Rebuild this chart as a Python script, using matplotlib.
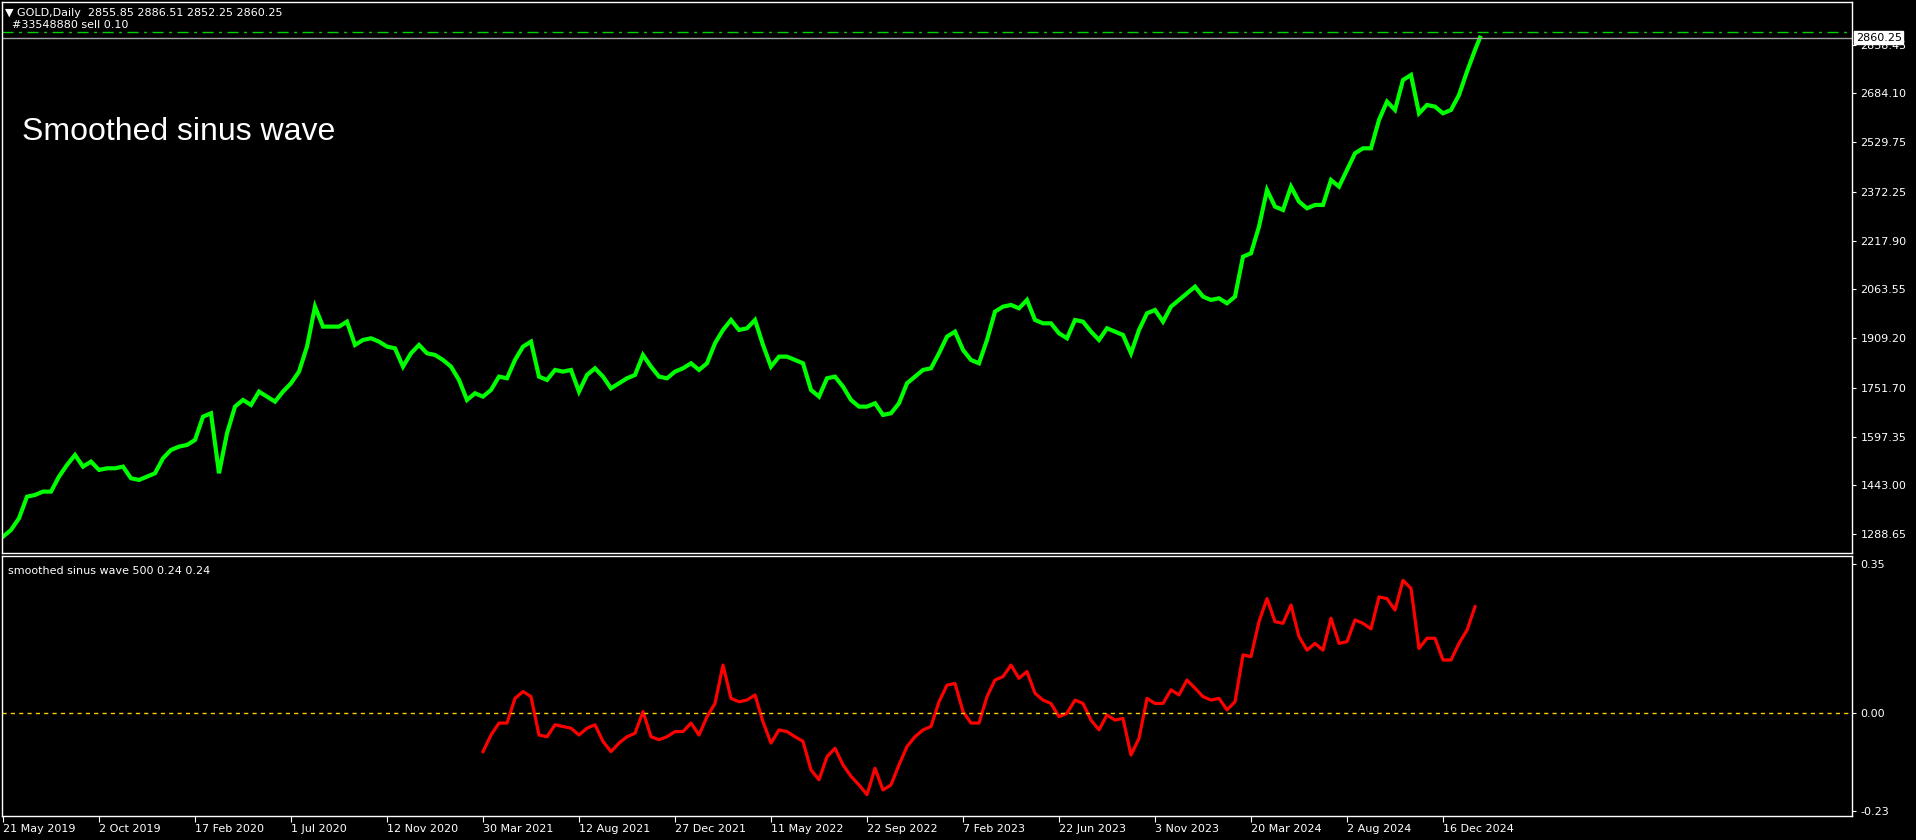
import numpy as np
import matplotlib
matplotlib.use("Agg")
import matplotlib.pyplot as plt
import matplotlib.transforms as mtransforms

# GOLD daily closes, read every 8 bars off the chart (last one is the current bar)
price_bars = list(range(0, 1480, 8)) + [1477]
price = [
    1280.9, 1301.9, 1338.9, 1407.4, 1412.7, 1423.3, 1423.3, 1470.8, 1507.7, 1539.3,
    1502.4, 1518.2, 1491.9, 1497.1, 1497.1, 1502.4, 1465.5, 1460.2, 1470.8, 1481.3,
    1528.8, 1555.2, 1565.7, 1571.0, 1586.8, 1660.6, 1671.2, 1481.3, 1607.9, 1692.3,
    1713.4, 1697.6, 1739.8, 1724.0, 1708.1, 1739.8, 1766.1, 1803.1, 1882.2, 2008.8,
    1945.5, 1945.5, 1945.5, 1961.3, 1887.5, 1903.3, 1908.6, 1898.0, 1882.2, 1876.9,
    1818.9, 1861.1, 1887.5, 1861.1, 1855.8, 1840.0, 1818.9, 1776.7, 1713.4, 1734.5,
    1724.0, 1745.1, 1787.3, 1782.0, 1840.0, 1882.2, 1898.0, 1787.3, 1776.7, 1808.4,
    1803.1, 1808.4, 1739.8, 1792.5, 1813.6, 1787.3, 1750.3, 1766.1, 1782.0, 1792.5,
    1855.8, 1818.9, 1787.3, 1782.0, 1803.1, 1813.6, 1829.5, 1808.4, 1829.5, 1892.8,
    1934.9, 1966.6, 1934.9, 1940.2, 1966.6, 1887.5, 1818.9, 1850.5, 1850.5, 1840.0,
    1829.5, 1745.0, 1724.0, 1782.0, 1787.3, 1755.6, 1713.4, 1692.3, 1692.3, 1702.9,
    1666.0, 1671.2, 1702.9, 1766.1, 1787.3, 1808.4, 1813.6, 1861.1, 1913.9, 1929.7,
    1871.7, 1840.0, 1829.5, 1903.3, 1993.0, 2008.8, 2014.1, 2003.5, 2029.9, 1966.6,
    1956.0, 1956.0, 1924.4, 1908.6, 1966.6, 1961.3, 1929.7, 1903.3, 1940.2, 1929.7,
    1919.1, 1861.1, 1934.9, 1987.7, 1998.2, 1961.3, 2008.8, 2029.9, 2051.0, 2072.1,
    2040.5, 2029.9, 2035.2, 2019.4, 2040.5, 2167.0, 2177.6, 2262.0, 2378.0, 2325.3,
    2314.7, 2388.6, 2341.1, 2320.0, 2330.6, 2330.6, 2409.7, 2388.6, 2441.4, 2494.1,
    2509.9, 2509.9, 2599.6, 2657.6, 2631.3, 2726.2, 2742.0, 2620.7, 2647.1, 2641.8,
    2620.7, 2631.3, 2678.7, 2752.6, 2821.1, 2860.25,
]

# smoothed sinus wave indicator, same 8-bar sampling
wave_bars = list(range(480, 1480, 8))
wave = [
    -0.090, -0.051, -0.023, -0.023, 0.035, 0.051, 0.039, -0.051, -0.055, -0.027,
    -0.031, -0.035, -0.051, -0.035, -0.027, -0.066, -0.090, -0.070, -0.055, -0.047,
    0.004, -0.055, -0.062, -0.055, -0.043, -0.043, -0.023, -0.051, -0.008, 0.023,
    0.113, 0.035, 0.027, 0.031, 0.043, -0.020, -0.070, -0.039, -0.043, -0.055,
    -0.066, -0.133, -0.156, -0.102, -0.082, -0.121, -0.148, -0.168, -0.191, -0.129,
    -0.180, -0.168, -0.121, -0.078, -0.055, -0.039, -0.031, 0.027, 0.066, 0.070,
    0.004, -0.023, -0.023, 0.039, 0.078, 0.086, 0.113, 0.082, 0.098, 0.047,
    0.031, 0.023, -0.008, 0.000, 0.031, 0.023, -0.016, -0.039, -0.004, -0.016,
    -0.012, -0.098, -0.059, 0.035, 0.023, 0.023, 0.055, 0.043, 0.078, 0.059,
    0.039, 0.031, 0.035, 0.008, 0.027, 0.137, 0.133, 0.215, 0.269, 0.215,
    0.211, 0.254, 0.180, 0.148, 0.164, 0.148, 0.223, 0.164, 0.168, 0.219,
    0.211, 0.198, 0.273, 0.269, 0.242, 0.312, 0.293, 0.152, 0.176, 0.176,
    0.125, 0.125, 0.164, 0.195, 0.250,
]

date_labels = ["21 May 2019", "2 Oct 2019", "17 Feb 2020", "1 Jul 2020", "12 Nov 2020",
               "30 Mar 2021", "12 Aug 2021", "27 Dec 2021", "11 May 2022", "22 Sep 2022",
               "7 Feb 2023", "22 Jun 2023", "3 Nov 2023", "20 Mar 2024", "2 Aug 2024",
               "16 Dec 2024"]
price_ticks = [2838.45, 2684.10, 2529.75, 2372.25, 2217.90, 2063.55, 1909.20,
               1751.70, 1597.35, 1443.00, 1288.65]
wave_ticks = [0.35, 0.00, -0.23]
bid = 2860.25
order_price = 2878.0

W, H = 1916, 840
fig = plt.figure(figsize=(W / 100, H / 100), dpi=100, facecolor="black")
ax1 = fig.add_axes([2 / W, (H - 553) / H, 1850 / W, 551 / H])
ax2 = fig.add_axes([2 / W, (H - 816) / H, 1850 / W, 260 / H])

for ax in (ax1, ax2):
    ax.set_facecolor("black")
    for s in ax.spines.values():
        s.set_color("white")
        s.set_linewidth(1)
    ax.set_xlim(-1, 1849)
    ax.yaxis.tick_right()
    ax.tick_params(axis="y", colors="white", labelcolor="white", labelsize=8,
                   length=3, pad=3)

# main price chart
ax1.plot(price_bars, price, color="#00ff00", lw=3, solid_joinstyle="miter")
ax1.axhline(order_price, color="#00d000", lw=1, ls=(0, (8, 4, 2, 4)))
ax1.axhline(bid, color="#a0a0a0", lw=1)
ax1.set_ylim(1229, 2973)
ax1.set_yticks(price_ticks)
ax1.set_yticklabels([f"{v:.2f}" for v in price_ticks])
ax1.set_xticks([])

trans = mtransforms.blended_transform_factory(ax1.transAxes, ax1.transData)
ax1.text(1.002, bid, f"{bid:.2f}", transform=trans, color="black", fontsize=8,
         va="center", ha="left", clip_on=False, zorder=10,
         bbox=dict(facecolor="white", edgecolor="white", pad=1.2))

ax1.text(0.011, 0.764, "Smoothed sinus wave", transform=ax1.transAxes,
         color="white", fontsize=23, family="Liberation Sans", va="center")

fig.text(5 / W, 1 - 13 / H, "\u25bc GOLD,Daily  2855.85 2886.51 2852.25 2860.25",
         color="white", fontsize=8, va="center")
fig.text(12 / W, 1 - 25 / H, "#33548880 sell 0.10", color="white", fontsize=8,
         va="center")

# indicator window
ax2.plot(wave_bars, wave, color="#ff0000", lw=2.3)
ax2.axhline(0, color="#ffcc00", lw=1, ls=(0, (3, 3)))
ax2.set_ylim(-0.241, 0.369)
ax2.set_yticks(wave_ticks)
ax2.set_yticklabels([f"{v:.2f}" for v in wave_ticks])
ax2.text(0.003, 0.96, "smoothed sinus wave 500 0.24 0.24", transform=ax2.transAxes,
         color="white", fontsize=8, va="top")

ax2.set_xticks(np.arange(len(date_labels)) * 96)
ax2.set_xticklabels(date_labels)
ax2.tick_params(axis="x", colors="white", labelcolor="white", labelsize=8,
                length=4, pad=2)
for lbl in ax2.get_xticklabels():
    lbl.set_ha("left")

fig.savefig("out.png", dpi=100, facecolor="black")
